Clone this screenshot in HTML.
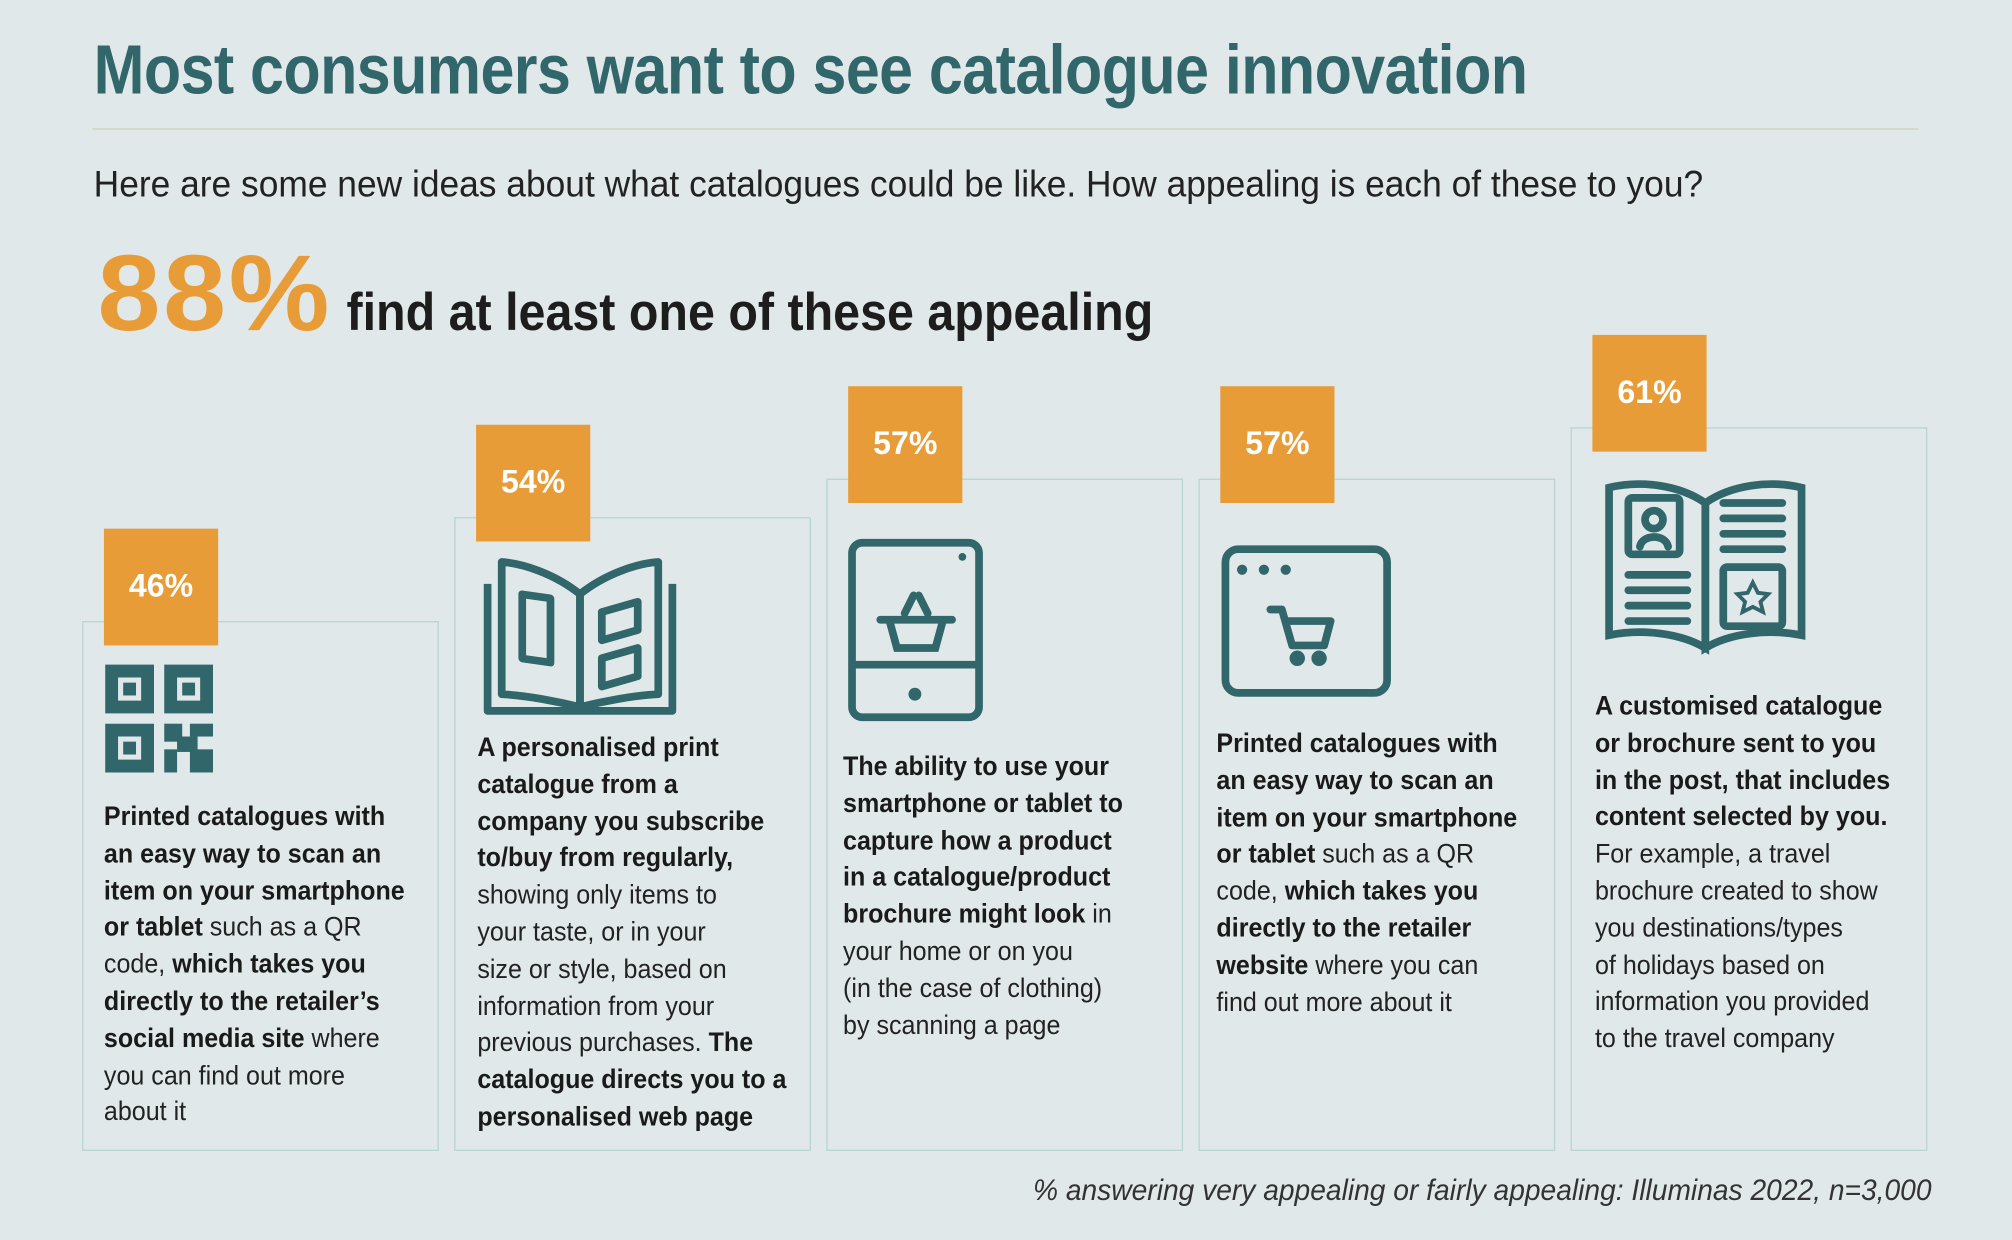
<!DOCTYPE html>
<html><head><meta charset="utf-8"><style>
html,body{margin:0;padding:0;background:#e0e8ea;overflow:hidden}
#stage{position:absolute;left:0;top:0;width:1568px;height:966px;transform:scale(1.28316);transform-origin:0 0;font-family:"Liberation Sans",sans-serif}
.abs{position:absolute}
.title{left:73px;top:24px;font-size:54px;font-weight:bold;color:#31666b;white-space:nowrap;transform:scaleX(0.88);transform-origin:left top;letter-spacing:-0.5px}
.rule{left:72px;top:100px;width:1423px;height:1px;background:#d3d2ae}
.sub{left:73px;top:128px;font-size:29px;color:#222;white-space:nowrap;transform:scaleX(0.95);transform-origin:left top}
.big{left:76px;top:180px;font-size:84px;font-weight:bold;color:#e89c38;white-space:nowrap;transform:scaleX(1.05);transform-origin:left top;letter-spacing:2px}
.find{left:270px;top:220px;font-size:41px;font-weight:bold;color:#1d1d1d;white-space:nowrap;transform:scaleX(0.92);transform-origin:left top}
.card{position:absolute;border:1px solid #b8d4d3;box-sizing:border-box}
.badge{position:absolute;background:#e89c38;color:#fff;font-weight:bold;font-size:25px;display:flex;align-items:center;justify-content:center}
.txt{position:absolute;font-size:21px;line-height:28.8px;color:#222;white-space:nowrap;transform:scaleX(0.93);transform-origin:left top}
.txt b{color:#1a1a1a}
.foot{right:63px;top:914px;font-size:23px;font-style:italic;color:#333;white-space:nowrap;transform:scaleX(0.955);transform-origin:right top}
svg.icon{position:absolute;overflow:visible}
</style></head><body>
<div id="stage">
<div class="abs title">Most consumers want to see catalogue innovation</div>
<div class="abs rule"></div>
<div class="abs sub">Here are some new ideas about what catalogues could be like. How appealing is each of these to you?</div>
<div class="abs big">88%</div>
<div class="abs find">find at least one of these appealing</div>
<div id="cards"></div>

<svg class="icon" style="left:82px;top:518px" width="84" height="84" viewBox="0 0 84 84" fill="#31666b">
<path fill-rule="evenodd" d="M0 0h38v38H0z M10 10v18h18V10z"/><rect x="14" y="14" width="10" height="10"/>
<path fill-rule="evenodd" d="M46 0h38v38H46z M56 10v18h18V10z"/><rect x="60" y="14" width="10" height="10"/>
<path fill-rule="evenodd" d="M0 46h38v38H0z M10 56v18h18V56z"/><rect x="14" y="60" width="10" height="10"/>
<rect x="46" y="46" width="14" height="14"/><rect x="66" y="46" width="18" height="10"/><rect x="56" y="56" width="16" height="12"/><rect x="46" y="66" width="10" height="18"/><rect x="66" y="66" width="18" height="18"/>
</svg>
<svg class="icon" style="left:377px;top:435px" width="150" height="122" viewBox="0 0 150 122" fill="none" stroke="#31666b" stroke-width="6" stroke-linejoin="round">
<path d="M3 20v99h144V20"/><path d="M75 116V28C55 12 30 4 14 3v103c20 1 45 6 61 10"/><path d="M75 116V28C95 12 120 4 136 3v103c-20 1-45 6-61 10"/>
<rect x="30" y="24" width="22" height="50" transform="skewY(8)"/><path d="M92 42l28-8v22l-28 8z"/><path d="M92 78l28-8v22l-28 8z"/>
</svg>
<svg class="icon" style="left:661px;top:420px" width="105" height="142" viewBox="0 0 105 142" fill="none" stroke="#31666b" stroke-width="6">
<rect x="3" y="3" width="99" height="136" rx="8"/><line x1="3" y1="98" x2="102" y2="98"/><circle cx="52" cy="121" r="5" fill="#31666b" stroke="none"/><circle cx="89" cy="14" r="3" fill="#31666b" stroke="none"/>
<path d="M25 63h56M32 63l6 22h30l6-22M44 58l7-14M62 58l-7-14" stroke-linecap="round"/>
</svg>
<svg class="icon" style="left:952px;top:425px" width="132" height="118" viewBox="0 0 132 118" fill="none" stroke="#31666b" stroke-width="6">
<rect x="3" y="3" width="126" height="112" rx="10"/>
<circle cx="16" cy="19" r="4" fill="#31666b" stroke="none"/><circle cx="33" cy="19" r="4" fill="#31666b" stroke="none"/><circle cx="50" cy="19" r="4" fill="#31666b" stroke="none"/>
<path d="M38 50h9l8 28h25l5-19H52" stroke-linejoin="round" stroke-linecap="round"/><circle cx="59" cy="88" r="3" fill="#31666b"/><circle cx="76" cy="88" r="3" fill="#31666b"/>
</svg>
<svg class="icon" style="left:1251px;top:370px" width="156" height="138" viewBox="0 0 156 138" fill="none" stroke="#31666b" stroke-width="6" stroke-linecap="round">
<path d="M3 10v115c25-5 55-2 75 10V22C58 8 28 4 3 10z"/><path d="M153 10v115c-25-5-55-2-75 10V22c20-14 50-18 75-12z"/>
<rect x="18" y="18" width="40" height="44" rx="3"/><circle cx="38" cy="35" r="7"/><path d="M27 56c2-10 20-10 22 0"/>
<path d="M18 78h46M18 90h46M18 102h46M18 114h46"/><path d="M92 22h46M92 34h46M92 46h46M92 58h46"/>
<rect x="92" y="72" width="46" height="46" rx="3"/><path d="M115 84l4 8 8 1-6 6 2 8-8-4-8 4 2-8-6-6 8-1z" stroke-width="3"/>
</svg>

<div class="txt" style="left:81px;top:623px"><b>Printed catalogues with<br>an easy way to scan an<br>item on your smartphone<br>or tablet</b> such as a QR<br>code, <b>which takes you<br>directly to the retailer’s<br>social media site</b> where<br>you can find out more<br>about it</div>
<div class="txt" style="left:372px;top:569px"><b>A personalised print<br>catalogue from a<br>company you subscribe<br>to/buy from regularly,</b><br>showing only items to<br>your taste, or in your<br>size or style, based on<br>information from your<br>previous purchases. <b>The<br>catalogue directs you to a<br>personalised web page</b></div>
<div class="txt" style="left:657px;top:584px"><b>The ability to use your<br>smartphone or tablet to<br>capture how a product<br>in a catalogue/product<br>brochure might look</b> in<br>your home or on you<br>(in the case of clothing)<br>by scanning a page</div>
<div class="txt" style="left:948px;top:566px"><b>Printed catalogues with<br>an easy way to scan an<br>item on your smartphone<br>or tablet</b> such as a QR<br>code, <b>which takes you<br>directly to the retailer<br>website</b> where you can<br>find out more about it</div>
<div class="txt" style="left:1243px;top:537px"><b>A customised catalogue<br>or brochure sent to you<br>in the post, that includes<br>content selected by you.</b><br>For example, a travel<br>brochure created to show<br>you destinations/types<br>of holidays based on<br>information you provided<br>to the travel company</div>

<div class="abs foot">% answering very appealing or fairly appealing: Illuminas 2022, n=3,000</div>
</div>
<script>
const categories = ["QR to social media","Personalised print catalogue","Scan to visualise product","QR to retailer website","Customised catalogue by post"];
const values = [46,54,57,57,61];
const labels = ["46%","54%","57%","57%","61%"];
function yTop(v){return 484 - (v-46)*10.1;}
function xLeft(i){return 64 + i*290;}
const host=document.getElementById('cards');
values.forEach((v,i)=>{
  const t=yTop(v), x=xLeft(i);
  const c=document.createElement('div');
  c.className='card';
  
  
  c.style.left=x+'px';c.style.top=t+'px';c.style.width='278px';c.style.height=(897-t)+'px';
  host.appendChild(c);
  const b=document.createElement('div');
  b.className='badge';
  
  
  b.style.left=(x+17)+'px';b.style.top=(t-72)+'px';b.style.width='89px';b.style.height='91px';
  b.textContent=labels[i];
  host.appendChild(b);
});
</script>
</body></html>
